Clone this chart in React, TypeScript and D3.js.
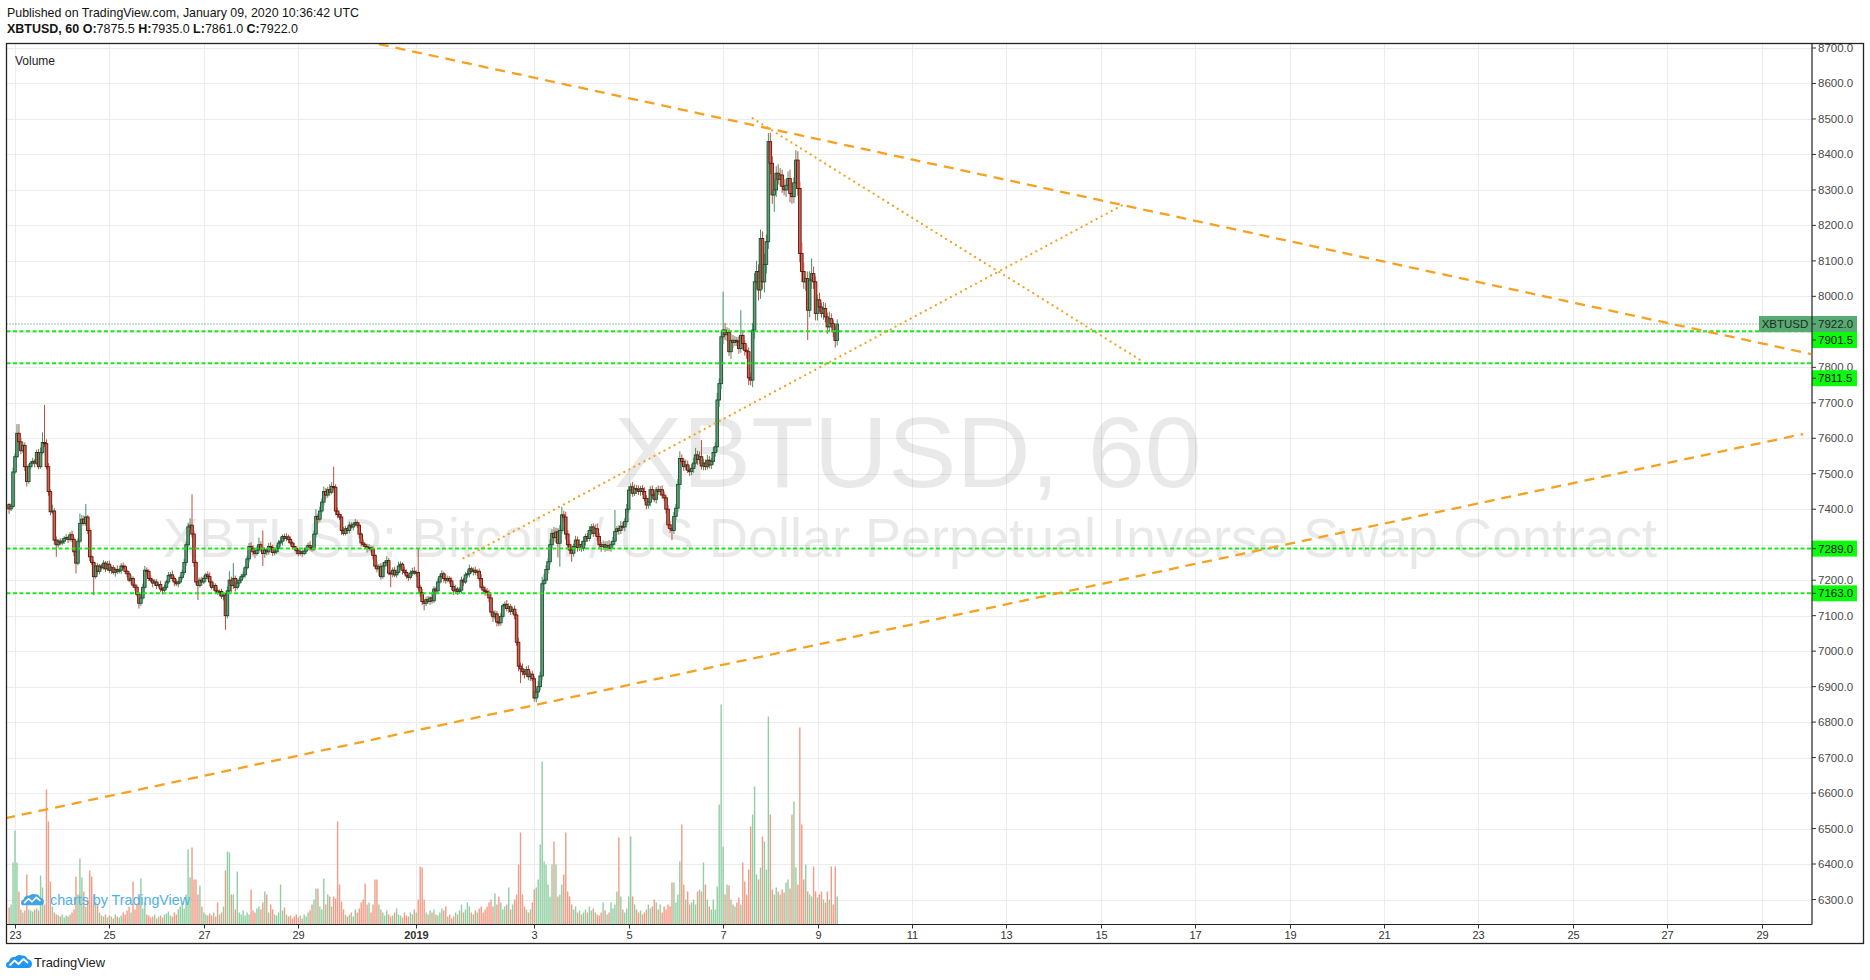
import React from "react";
import * as d3 from "d3";

// ---------------- DATA ----------------
const FIRST_BAR_UTC = Date.UTC(2018, 11, 22, 21); // hourly bars
const OPEN_FIRST = 7413;

// closes, one row per day (first row: Dec 22 21:00-23:00, last row: Jan 9 00:00-10:00)
const closes: number[][] = [
  [7401, 7408, 7505],
  [7548, 7614, 7590, 7565, 7580, 7520, 7478, 7520, 7530, 7535, 7530, 7560, 7520, 7560, 7588, 7585, 7520, 7450, 7393, 7395, 7313, 7300, 7310, 7305],
  [7310, 7318, 7320, 7315, 7328, 7315, 7280, 7248, 7310, 7360, 7372, 7360, 7378, 7340, 7266, 7250, 7210, 7240, 7225, 7240, 7235, 7248, 7232, 7245],
  [7228, 7235, 7222, 7230, 7225, 7228, 7240, 7238, 7225, 7218, 7200, 7205, 7186, 7180, 7160, 7135, 7150, 7180, 7228, 7225, 7205, 7200, 7192, 7195],
  [7185, 7188, 7175, 7172, 7180, 7195, 7213, 7215, 7205, 7195, 7190, 7195, 7208, 7222, 7250, 7300, 7350, 7355, 7330, 7250, 7195, 7185, 7200, 7195],
  [7205, 7215, 7210, 7195, 7180, 7185, 7170, 7165, 7168, 7155, 7158, 7100, 7170, 7200, 7185, 7205, 7180, 7192, 7200, 7210, 7215, 7235, 7260, 7295],
  [7290, 7280, 7275, 7285, 7300, 7290, 7275, 7285, 7280, 7295, 7292, 7278, 7280, 7290, 7305, 7310, 7323, 7318, 7322, 7315, 7305, 7295, 7290, 7283],
  [7275, 7280, 7275, 7282, 7290, 7298, 7292, 7288, 7330, 7380, 7372, 7395, 7420, 7450, 7440, 7455, 7448, 7464, 7462, 7395, 7385, 7378, 7340, 7332],
  [7345, 7340, 7355, 7350, 7358, 7362, 7355, 7330, 7305, 7300, 7295, 7290, 7292, 7288, 7270, 7240, 7232, 7238, 7210, 7240, 7250, 7255, 7220, 7218],
  [7228, 7215, 7222, 7240, 7245, 7228, 7222, 7212, 7208, 7220, 7225, 7220, 7222, 7180, 7165, 7140, 7135, 7145, 7140, 7150, 7142, 7175, 7170, 7195],
  [7210, 7218, 7205, 7200, 7205, 7198, 7182, 7170, 7175, 7168, 7172, 7200, 7195, 7215, 7218, 7232, 7225, 7228, 7222, 7225, 7205, 7180, 7172, 7168],
  [7165, 7150, 7110, 7097, 7105, 7082, 7080, 7098, 7128, 7132, 7120, 7125, 7112, 7118, 7102, 7025, 6958, 6950, 6942, 6935, 6948, 6928, 6935, 6922],
  [6868, 6885, 6900, 6930, 7190, 7200, 7230, 7252, 7300, 7332, 7320, 7336, 7304, 7340, 7384, 7378, 7330, 7300, 7285, 7276, 7295, 7313, 7292, 7300],
  [7290, 7310, 7323, 7318, 7340, 7350, 7332, 7345, 7323, 7300, 7295, 7300, 7292, 7298, 7290, 7300, 7310, 7337, 7345, 7340, 7352, 7350, 7365, 7400],
  [7454, 7463, 7445, 7458, 7455, 7450, 7458, 7450, 7430, 7412, 7420, 7455, 7440, 7428, 7455, 7450, 7455, 7440, 7432, 7400, 7356, 7345, 7340, 7380],
  [7403, 7470, 7543, 7535, 7520, 7525, 7510, 7506, 7515, 7530, 7553, 7540, 7548, 7522, 7530, 7520, 7538, 7525, 7535, 7560, 7576, 7708, 7754, 7886],
  [7905, 7892, 7898, 7844, 7876, 7870, 7876, 7872, 7853, 7890, 7867, 7848, 7844, 7770, 7764, 7905, 8041, 8070, 8018, 8163, 8041, 8090, 8154, 8436],
  [8375, 8286, 8300, 8347, 8330, 8342, 8310, 8300, 8313, 8332, 8290, 8281, 8320, 8384, 8304, 8121, 8070, 8041, 8050, 7961, 8046, 8064, 8041, 7952],
  [7990, 7970, 7952, 7966, 7942, 7914, 7937, 7923, 7900, 7875.5, 7922],
];

// high = max(open, close) + upper wick ; low = min(open, close) - lower wick
const upperWicks: number[][] = [
  [4, 8, 12],
  [10, 26, 26, 12, 10, 8, 6, 8, 6, 10, 6, 8, 10, 14, 29, 106, 12, 10, 6, 18, 8, 10, 6, 8],
  [8, 6, 10, 5, 8, 12, 6, 5, 8, 28, 12, 10, 37, 6, 8, 5, 6, 10, 8, 6, 5, 8, 6, 9],
  [10, 6, 8, 5, 12, 6, 8, 10, 6, 5, 8, 10, 6, 5, 8, 6, 8, 10, 12, 8, 6, 10, 5, 8],
  [8, 6, 10, 5, 8, 6, 10, 8, 12, 6, 8, 5, 6, 8, 10, 8, 12, 20, 87, 10, 6, 12, 8, 10],
  [8, 6, 10, 12, 5, 8, 6, 10, 6, 8, 5, 6, 12, 25, 10, 43, 8, 12, 6, 8, 10, 6, 8, 10],
  [12, 8, 6, 10, 20, 10, 50, 8, 6, 10, 12, 8, 6, 10, 8, 12, 6, 8, 10, 6, 8, 5, 10, 6],
  [6, 8, 5, 10, 6, 8, 12, 6, 10, 20, 8, 12, 10, 14, 10, 8, 16, 12, 56, 8, 10, 6, 8, 10],
  [8, 6, 10, 8, 6, 10, 6, 8, 5, 10, 6, 8, 10, 6, 8, 5, 12, 8, 10, 10, 6, 12, 8, 6],
  [8, 10, 6, 12, 8, 5, 10, 8, 6, 8, 10, 12, 6, 68, 8, 10, 6, 8, 10, 5, 12, 8, 6, 10],
  [8, 10, 6, 12, 8, 6, 10, 8, 12, 6, 8, 10, 6, 8, 10, 12, 6, 8, 10, 6, 8, 12, 6, 10],
  [10, 8, 12, 6, 10, 8, 12, 10, 6, 8, 12, 10, 8, 6, 10, 8, 12, 10, 15, 8, 10, 12, 8, 10],
  [8, 10, 15, 12, 20, 18, 12, 10, 15, 12, 18, 12, 10, 15, 23, 12, 15, 10, 12, 10, 8, 12, 10, 15],
  [10, 12, 8, 10, 12, 8, 10, 12, 15, 10, 8, 12, 10, 12, 15, 10, 12, 61, 8, 10, 15, 12, 10, 15],
  [12, 10, 14, 12, 10, 12, 8, 10, 12, 10, 12, 10, 12, 10, 8, 12, 10, 12, 10, 8, 12, 10, 8, 12],
  [12, 15, 20, 12, 10, 15, 12, 10, 12, 15, 20, 12, 15, 47, 12, 10, 15, 12, 10, 15, 12, 20, 15, 18],
  [108, 20, 15, 12, 20, 15, 12, 10, 15, 71, 12, 10, 15, 12, 15, 20, 25, 30, 20, 25, 20, 30, 20, 24],
  [25, 20, 30, 20, 25, 20, 15, 20, 18, 20, 25, 20, 15, 28, 25, 20, 30, 25, 20, 20, 25, 43, 20, 15],
  [15, 20, 12, 18, 15, 12, 20, 15, 12, 15, 13],
];

const lowerWicks: number[][] = [
  [14, 6, 4],
  [6, 4, 8, 10, 6, 12, 14, 6, 8, 6, 12, 5, 8, 6, 5, 10, 8, 12, 10, 6, 12, 34, 8, 6],
  [6, 8, 5, 10, 6, 8, 12, 29, 6, 5, 8, 6, 7, 10, 12, 8, 52, 6, 10, 8, 6, 5, 9, 6],
  [8, 10, 6, 12, 8, 6, 10, 5, 8, 10, 6, 12, 8, 10, 6, 15, 8, 6, 5, 10, 8, 6, 12, 8],
  [10, 6, 8, 12, 5, 8, 6, 10, 8, 12, 6, 10, 5, 6, 8, 10, 6, 8, 10, 12, 8, 41, 6, 10],
  [6, 10, 8, 12, 6, 10, 8, 6, 10, 8, 12, 40, 8, 6, 20, 10, 12, 6, 10, 8, 6, 8, 5, 10],
  [8, 10, 12, 6, 8, 10, 35, 12, 10, 8, 6, 10, 8, 6, 10, 8, 12, 6, 8, 10, 6, 8, 5, 10],
  [8, 6, 10, 5, 8, 6, 10, 8, 6, 10, 12, 8, 6, 10, 12, 8, 10, 6, 8, 12, 10, 8, 12, 6],
  [6, 10, 8, 5, 10, 6, 8, 12, 10, 6, 8, 12, 8, 10, 12, 8, 10, 20, 8, 6, 12, 8, 6, 38],
  [10, 6, 8, 5, 10, 12, 6, 8, 10, 6, 8, 5, 10, 8, 12, 10, 20, 8, 6, 10, 8, 6, 10, 8],
  [6, 8, 12, 10, 6, 8, 10, 12, 8, 10, 6, 8, 12, 6, 8, 10, 6, 12, 8, 10, 8, 6, 10, 12],
  [8, 12, 10, 15, 8, 12, 10, 8, 6, 10, 8, 12, 10, 8, 12, 10, 15, 40, 10, 12, 8, 10, 12, 8],
  [10, 12, 15, 10, 12, 20, 10, 12, 8, 10, 12, 15, 40, 66, 10, 12, 15, 10, 12, 24, 10, 8, 12, 10],
  [10, 8, 12, 10, 8, 12, 10, 8, 12, 10, 15, 10, 12, 10, 8, 10, 12, 10, 8, 12, 10, 8, 12, 10],
  [10, 12, 10, 8, 12, 10, 12, 10, 8, 12, 10, 12, 10, 8, 12, 10, 12, 10, 8, 12, 10, 12, 27, 10],
  [10, 12, 15, 10, 12, 10, 8, 12, 10, 12, 10, 15, 12, 10, 12, 10, 8, 10, 12, 10, 12, 15, 20, 15],
  [20, 15, 18, 12, 20, 15, 10, 12, 15, 12, 18, 15, 20, 20, 15, 20, 25, 20, 30, 25, 20, 30, 25, 20],
  [30, 25, 48, 20, 15, 20, 18, 15, 20, 15, 25, 20, 18, 15, 20, 25, 30, 20, 25, 84, 20, 25, 20, 20],
  [20, 15, 12, 18, 15, 20, 15, 12, 15, 20, 14.5],
];

const volumes: number[][] = [
  [17, 20, 62],
  [94, 62, 33, 15, 12, 14, 50, 15, 14, 13, 15, 16, 14, 49, 37, 20, 135, 103, 43, 18, 12, 10, 9, 8],
  [10, 7, 9, 8, 10, 12, 15, 48, 30, 66, 47, 33, 18, 25, 54, 48, 30, 22, 20, 12, 9, 8, 10, 7],
  [9, 8, 6, 10, 8, 7, 9, 12, 10, 14, 18, 12, 43, 15, 20, 28, 46, 16, 22, 10, 9, 7, 8, 10],
  [6, 8, 9, 7, 10, 11, 13, 9, 8, 12, 10, 15, 18, 22, 16, 30, 75, 47, 77, 45, 45, 30, 39, 18],
  [12, 10, 9, 11, 9, 12, 8, 22, 10, 12, 18, 54, 73, 72, 30, 30, 15, 53, 12, 10, 14, 9, 12, 10],
  [35, 14, 12, 16, 18, 15, 22, 33, 30, 12, 20, 15, 10, 9, 12, 40, 14, 17, 10, 8, 9, 6, 8, 10],
  [7, 9, 6, 10, 8, 12, 14, 20, 25, 36, 36, 18, 15, 46, 20, 30, 28, 18, 28, 26, 103, 40, 23, 15],
  [10, 8, 10, 12, 8, 15, 12, 16, 22, 25, 41, 20, 22, 12, 20, 45, 45, 20, 15, 12, 9, 14, 10, 8],
  [9, 12, 16, 10, 9, 7, 12, 9, 8, 12, 10, 15, 12, 25, 58, 57, 25, 12, 10, 14, 12, 15, 10, 9],
  [12, 16, 14, 18, 8, 10, 6, 8, 12, 10, 14, 20, 12, 15, 22, 18, 12, 10, 14, 12, 16, 18, 12, 15],
  [18, 22, 25, 18, 31, 20, 28, 22, 15, 18, 20, 37, 15, 20, 25, 30, 60, 92, 30, 18, 15, 12, 15, 22],
  [35, 37, 45, 80, 163, 63, 60, 40, 28, 60, 83, 60, 28, 30, 40, 50, 92, 33, 28, 20, 15, 18, 12, 14],
  [10, 12, 15, 12, 18, 14, 16, 12, 10, 9, 12, 22, 14, 10, 12, 22, 16, 20, 33, 87, 28, 15, 12, 16],
  [28, 88, 28, 20, 15, 12, 14, 10, 12, 15, 20, 16, 18, 25, 22, 15, 20, 12, 18, 15, 20, 18, 42, 42],
  [22, 30, 63, 100, 40, 25, 33, 20, 22, 25, 20, 33, 35, 33, 62, 40, 25, 18, 15, 25, 15, 38, 120, 220],
  [78, 30, 40, 39, 25, 20, 18, 22, 27, 20, 62, 43, 30, 55, 98, 110, 138, 50, 45, 57, 88, 83, 55, 208],
  [110, 35, 30, 37, 33, 30, 35, 32, 42, 45, 36, 110, 123, 57, 40, 197, 100, 45, 60, 33, 30, 28, 58, 33],
  [27, 30, 33, 25, 22, 33, 25, 58, 20, 58, 28],
];

const priceTicks = [6300, 6400, 6500, 6600, 6700, 6800, 6900, 7000, 7100, 7200, 7300, 7400, 7500, 7600, 7700, 7800, 7900, 8000, 8100, 8200, 8300, 8400, 8500, 8600, 8700];

const dayTickLabels = ["23", "25", "27", "29", "2019", "3", "5", "7", "9", "11", "13", "15", "17", "19", "21", "23", "25", "27", "29"];
const dayTickTimes = [
  Date.UTC(2018, 11, 23), Date.UTC(2018, 11, 25), Date.UTC(2018, 11, 27), Date.UTC(2018, 11, 29),
  Date.UTC(2018, 11, 31, 12),
  Date.UTC(2019, 0, 3), Date.UTC(2019, 0, 5), Date.UTC(2019, 0, 7), Date.UTC(2019, 0, 9), Date.UTC(2019, 0, 11),
  Date.UTC(2019, 0, 13), Date.UTC(2019, 0, 15), Date.UTC(2019, 0, 17), Date.UTC(2019, 0, 19), Date.UTC(2019, 0, 21),
  Date.UTC(2019, 0, 23), Date.UTC(2019, 0, 25), Date.UTC(2019, 0, 27), Date.UTC(2019, 0, 29),
];

const levelPrices = [7901.5, 7811.5, 7289.0, 7163.0];
const lastPrice = 7922.0;
const symbolName = "XBTUSD";

// trend lines: [time, price] anchors
const dashedLines: [number, number][][] = [
  [[Date.UTC(2018, 11, 30, 17), 8711], [Date.UTC(2019, 0, 30, 1), 7837.5]],
  [[Date.UTC(2018, 11, 22, 19), 6529], [Date.UTC(2019, 0, 29, 21), 7612]],
];
const dottedLines: [number, number][][] = [
  [[Date.UTC(2019, 0, 7, 15), 8502], [Date.UTC(2019, 0, 15, 20), 7821]],
  [[Date.UTC(2019, 0, 1, 12), 7262], [Date.UTC(2019, 0, 15, 11), 8257]],
];

// ---------------- BUILD ----------------
type Bar = { t: number; o: number; h: number; l: number; c: number; v: number };
function buildBars(): Bar[] {
  const c = closes.flat();
  const uw = upperWicks.flat();
  const lw = lowerWicks.flat();
  const v = volumes.flat();
  return c.map((close, i) => {
    const open = i === 0 ? OPEN_FIRST : c[i - 1];
    return {
      t: FIRST_BAR_UTC + i * 3600000,
      o: open,
      c: close,
      h: Math.max(open, close) + (uw[i] ?? 8),
      l: Math.min(open, close) - (lw[i] ?? 8),
      v: v[i] ?? 10,
    };
  });
}

const FONT = "'Liberation Sans', Arial, sans-serif";

function Cloud({ x, y, s, fill }: { x: number; y: number; s: number; fill: string }) {
  return (
    <g transform={`translate(${x},${y}) scale(${s})`}>
      <path d="M3,14 Q0,14 0,11 Q0,8 3,7.5 Q4,2.5 9,3 Q12,0 16,1.5 Q20,1 21.5,5 Q26,6 26,10 Q26,14 22,14 Z" fill={fill} />
      <polyline points="3.5,11.5 8.5,6.5 12.5,10 17.5,5 22,9" fill="none" stroke="#fff" strokeWidth={1.8} strokeLinejoin="round" />
    </g>
  );
}

export default function App() {
  const bars = buildBars();
  const L = 6.5, T = 43.5, R = 1812, B = 924.5, OR = 1863.5, OB = 943.5;

  const x = d3
    .scaleUtc()
    .domain([new Date(Date.UTC(2018, 11, 23)), new Date(Date.UTC(2019, 0, 29))])
    .range([15, 15 + 888 * 1.967]);
  const y = d3.scaleLinear().domain([6300, 8700]).range([899.5, 48]);
  const vh = d3.scaleLinear().domain([0, 220]).range([0, 220]);

  const up = { body: "#5f9f78", border: "#1d4d30", wick: "#3f9460", vol: "#8fcfa2" };
  const dn = { body: "#d9604a", border: "#58170f", wick: "#bf4d43", vol: "#f09c86" };

  const line = d3.line<[number, number]>().x((d) => x(new Date(d[0]))).y((d) => y(d[1]));

  // label boxes on price axis
  const boxH = 16;
  const lastY = y(lastPrice);
  const levelLabelY = levelPrices.map((p) => y(p));
  if (levelLabelY[0] < lastY + boxH) levelLabelY[0] = lastY + boxH;
  levelLabelY[1] = levelLabelY[1] + 15;
  const boxCenters = [lastY, ...levelLabelY];
  const visibleTicks = priceTicks.filter((p) => boxCenters.every((c) => Math.abs(y(p) - c) > 10));

  return (
    <svg
      width={1870}
      height={980}
      style={{ position: "absolute", left: 0, top: 0, background: "#fff" }}
      fontFamily={FONT}
    >
      <defs>
        <clipPath id="plot">
          <rect x={L} y={T} width={R - L} height={B - T} />
        </clipPath>
      </defs>
      <rect x={0} y={0} width={1870} height={980} fill="#fff" />

      {/* header */}
      <text x={7} y={17} fontSize={13} fill="#131313" textLength={352} lengthAdjust="spacingAndGlyphs">
        Published on TradingView.com, January 09, 2020 10:36:42 UTC
      </text>
      <text x={7} y={33} fontSize={13} fill="#131313" textLength={291} lengthAdjust="spacingAndGlyphs">
        <tspan fontWeight="bold">XBTUSD, 60 </tspan>
        <tspan fontWeight="bold">O:</tspan>
        <tspan>7875.5 </tspan>
        <tspan fontWeight="bold">H:</tspan>
        <tspan>7935.0 </tspan>
        <tspan fontWeight="bold">L:</tspan>
        <tspan>7861.0 </tspan>
        <tspan fontWeight="bold">C:</tspan>
        <tspan>7922.0</tspan>
      </text>

      <g clipPath="url(#plot)">
        {/* grid */}
        {priceTicks.map((p) => (
          <line key={"hg" + p} x1={L} x2={R} y1={Math.round(y(p)) + 0.5} y2={Math.round(y(p)) + 0.5} stroke="#ececec" />
        ))}
        {dayTickTimes.map((t, i) => (
          <line key={"vg" + i} x1={Math.round(x(new Date(t))) + 0.5} x2={Math.round(x(new Date(t))) + 0.5} y1={T} y2={B} stroke="#ececec" />
        ))}

        {/* watermark */}
        <text x={908} y={487} fontSize={101} textAnchor="middle" fill="#000" fillOpacity={0.085} textLength={588} lengthAdjust="spacingAndGlyphs">
          XBTUSD, 60
        </text>
        <text x={910} y={557} fontSize={55} textAnchor="middle" fill="#000" fillOpacity={0.085} textLength={1494} lengthAdjust="spacingAndGlyphs">
          XBTUSD: Bitcoin / US Dollar Perpetual Inverse Swap Contract
        </text>

        {/* volume */}
        {bars.map((b, i) => {
          const cx = x(new Date(b.t));
          const h = vh(b.v);
          return <rect key={"v" + i} x={cx - 0.7} width={1.4} y={B - h} height={h} fill={b.c >= b.o ? up.vol : dn.vol} />;
        })}

        {/* charts by TradingView */}
        <Cloud x={21} y={893} s={0.88} fill="#3fa5e3" />
        <text x={50} y={905} fontSize={14.5} fill="#4fb0e6" textLength={140} lengthAdjust="spacingAndGlyphs">
          charts by TradingView
        </text>

        {/* candles */}
        {bars.map((b, i) => {
          const cx = x(new Date(b.t));
          const col = b.c >= b.o ? up : dn;
          const top = y(Math.max(b.o, b.c));
          const bot = y(Math.min(b.o, b.c));
          return (
            <g key={"c" + i}>
              <line x1={cx} x2={cx} y1={y(b.h)} y2={y(b.l)} stroke={col.wick} strokeWidth={1} />
              <rect x={cx - 1.3} y={top} width={2.6} height={Math.max(1, bot - top)} fill={col.body} stroke={col.border} strokeWidth={0.9} />
            </g>
          );
        })}

        {/* last price dotted line */}
        <line x1={L} x2={R} y1={lastY} y2={lastY} stroke="#3c8a5c" strokeWidth={1} strokeDasharray="1 2" />

        {/* levels */}
        {levelPrices.map((p) => (
          <line key={"lv" + p} x1={L} x2={R} y1={y(p)} y2={y(p)} stroke="#16ec16" strokeWidth={2} strokeDasharray="4 2.5" />
        ))}

        {/* trend lines */}
        {dashedLines.map((d, i) => (
          <path key={"dl" + i} d={line(d) || ""} fill="none" stroke="#f8a01f" strokeWidth={2.3} strokeDasharray="10 7" />
        ))}
        {dottedLines.map((d, i) => (
          <path key={"dt" + i} d={line(d) || ""} fill="none" stroke="#f8a01f" strokeWidth={2.2} strokeDasharray="0.1 5.6" strokeLinecap="round" />
        ))}

        <text x={15} y={65} fontSize={12} fill="#222">Volume</text>

        {/* symbol label */}
        <rect x={1759} y={lastY - boxH / 2} width={R - 1759} height={boxH} fill="#58aa72" />
        <text x={1785} y={lastY + 4} fontSize={11.5} textAnchor="middle" fill="#1b2a1f">{symbolName}</text>
      </g>

      {/* price axis */}
      {priceTicks.map((p) => (
        <line key={"ptk" + p} x1={R} x2={R + 4} y1={y(p)} y2={y(p)} stroke="#333" />
      ))}
      {visibleTicks.map((p) => (
        <text key={"pt" + p} x={R + 6} y={y(p) + 4} fontSize={11.5} fill="#4a4a4a">{p.toFixed(1)}</text>
      ))}
      <rect x={R} y={lastY - boxH / 2} width={45} height={boxH} fill="#58aa72" />
      <line x1={R} x2={R + 4} y1={lastY} y2={lastY} stroke="#333" />
      <text x={R + 6} y={lastY + 4} fontSize={11.5} fill="#1b2a1f">{lastPrice.toFixed(1)}</text>
      {levelPrices.map((p, i) => (
        <g key={"lb" + p}>
          <rect x={R} y={levelLabelY[i] - boxH / 2} width={45} height={boxH} fill="#0dfa0d" />
          <line x1={R} x2={R + 4} y1={levelLabelY[i]} y2={levelLabelY[i]} stroke="#333" />
          <text x={R + 6} y={levelLabelY[i] + 4} fontSize={11.5} fill="#111">{p.toFixed(1)}</text>
        </g>
      ))}

      {/* time axis */}
      {dayTickTimes.map((t, i) => {
        const tx = Math.round(x(new Date(t))) + 0.5;
        return (
          <g key={"tt" + i}>
            <line x1={tx} x2={tx} y1={B} y2={B + 4} stroke="#333" />
            <text x={tx} y={939} fontSize={11} textAnchor="middle" fill="#333" fontWeight={dayTickLabels[i] === "2019" ? "bold" : "normal"}>
              {dayTickLabels[i]}
            </text>
          </g>
        );
      })}

      {/* frame */}
      <rect x={L} y={T} width={OR - L} height={OB - T} fill="none" stroke="#222" strokeWidth={1.3} />
      <line x1={R} x2={R} y1={T} y2={B} stroke="#222" strokeWidth={1.2} />
      <line x1={L} x2={R} y1={B} y2={B} stroke="#222" strokeWidth={1.2} />

      {/* footer logo */}
      <Cloud x={6} y={954} s={1.0} fill="#2196f3" />
      <text x={34} y={967} fontSize={13} fill="#222" textLength={71} lengthAdjust="spacingAndGlyphs">TradingView</text>
    </svg>
  );
}
